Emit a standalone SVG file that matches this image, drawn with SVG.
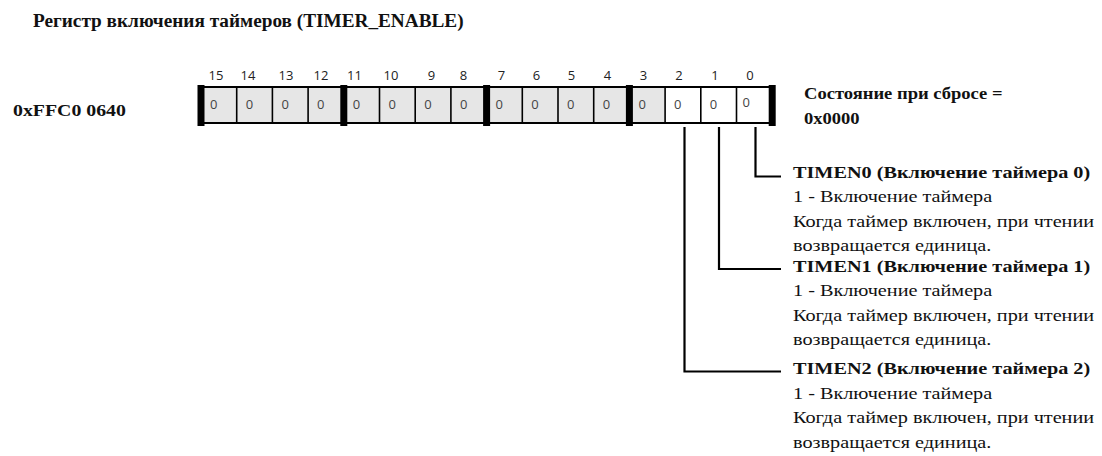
<svg xmlns="http://www.w3.org/2000/svg" width="1102" height="456" viewBox="0 0 1102 456">
  <style>
    .serif { font-family: "Liberation Serif", "Times New Roman", serif; fill: #111; }
    .bold { font-weight: bold; }
    .lbl { font-size: 17px; }
    .bitno { font-family: "Open Sans", "DejaVu Sans", sans-serif; font-size: 13px; fill: #222; text-anchor: middle; }
    .val { font-family: "Open Sans", "DejaVu Sans", sans-serif; font-size: 13px; fill: #444; }
    .cell-ro { fill: #e6e6e6; stroke: none; }
    .cell-rw { fill: #ffffff; stroke: none; }
    .div { stroke: #000; stroke-width: 1.6; }
    .nib { fill: #000; }
    .frame { stroke: #000; stroke-width: 2; fill: none; }
    .lead { stroke: #000; stroke-width: 2.2; fill: none; }
  </style>

  <!-- register name -->
  <g id="title">
    <text class="serif bold" font-size="18" transform="translate(33 27) scale(1.07 1)">Регистр включения таймеров (TIMER_ENABLE)</text>
  </g>

  <!-- memory-mapped address -->
  <g id="address">
    <text class="serif bold" font-size="16" transform="translate(13 115.5) scale(1.24 1)">0xFFC0 0640</text>
  </g>

  <!-- 16-bit register body -->
  <g id="register">
    <rect class="cell-ro" x="201" y="87" width="464.1" height="36"/>
    <rect class="cell-rw" x="665.1" y="87" width="107.1" height="36"/>
    <line class="frame" x1="201" y1="87" x2="772.2" y2="87"/>
    <line class="frame" x1="201" y1="123" x2="772.2" y2="123"/>
    <!-- cell dividers -->
    <g class="div">
      <line x1="236.7" y1="87" x2="236.7" y2="123"/>
      <line x1="272.4" y1="87" x2="272.4" y2="123"/>
      <line x1="308.1" y1="87" x2="308.1" y2="123"/>
      <line x1="379.5" y1="87" x2="379.5" y2="123"/>
      <line x1="415.2" y1="87" x2="415.2" y2="123"/>
      <line x1="450.9" y1="87" x2="450.9" y2="123"/>
      <line x1="522.3" y1="87" x2="522.3" y2="123"/>
      <line x1="558" y1="87" x2="558" y2="123"/>
      <line x1="593.7" y1="87" x2="593.7" y2="123"/>
      <line x1="665.1" y1="87" x2="665.1" y2="123"/>
      <line x1="700.8" y1="87" x2="700.8" y2="123"/>
      <line x1="736.5" y1="87" x2="736.5" y2="123"/>
    </g>
    <!-- nibble separators -->
    <rect class="nib" x="197.5" y="85" width="7" height="41"/>
    <rect class="nib" x="340.3" y="85" width="7" height="41"/>
    <rect class="nib" x="483.1" y="85" width="7" height="41"/>
    <rect class="nib" x="625.9" y="85" width="7" height="41"/>
    <rect class="nib" x="768.7" y="85" width="7" height="41"/>

    <!-- bit numbers -->
    <text class="bitno" x="216" y="80">15</text>
    <text class="bitno" x="248" y="80">14</text>
    <text class="bitno" x="286" y="80">13</text>
    <text class="bitno" x="321" y="80">12</text>
    <text class="bitno" x="354.5" y="80">11</text>
    <text class="bitno" x="391" y="80">10</text>
    <text class="bitno" x="431.5" y="80">9</text>
    <text class="bitno" x="463.5" y="80">8</text>
    <text class="bitno" x="501.5" y="80">7</text>
    <text class="bitno" x="536.5" y="80">6</text>
    <text class="bitno" x="571.5" y="80">5</text>
    <text class="bitno" x="607.5" y="80">4</text>
    <text class="bitno" x="643.5" y="80">3</text>
    <text class="bitno" x="679" y="80">2</text>
    <text class="bitno" x="715" y="80">1</text>
    <text class="bitno" x="750" y="80">0</text>

    <!-- reset values -->
    <text class="val" x="210" y="109">0</text>
    <text class="val" x="245.7" y="109">0</text>
    <text class="val" x="281.4" y="109">0</text>
    <text class="val" x="317.1" y="109">0</text>
    <text class="val" x="352.8" y="109">0</text>
    <text class="val" x="388.5" y="109">0</text>
    <text class="val" x="424.2" y="109">0</text>
    <text class="val" x="459.9" y="109">0</text>
    <text class="val" x="495.6" y="109">0</text>
    <text class="val" x="531.3" y="109">0</text>
    <text class="val" x="567" y="109">0</text>
    <text class="val" x="602.7" y="109">0</text>
    <text class="val" x="638.4" y="109">0</text>
    <text class="val" x="674.1" y="109">0</text>
    <text class="val" x="709.8" y="109">0</text>
    <text class="val" x="742.5" y="107">0</text>
  </g>

  <!-- reset state -->
  <g id="reset-state">
    <text class="serif bold" font-size="16" transform="translate(804 99) scale(1.16 1)">Состояние при сбросе =</text>
    <text class="serif bold" font-size="16" transform="translate(804 123.5) scale(1.16 1)">0x0000</text>
  </g>

  <!-- leaders from bit cells to field descriptions -->
  <g id="connectors">
    <path class="lead" d="M755.5 127 V176.5 H781"/>
    <path class="lead" d="M719 127 V269 H781"/>
    <path class="lead" d="M684.5 127 V371.5 H781"/>
  </g>

  <!-- field descriptions -->
  <g id="field-timen0" class="serif lbl">
    <text class="bold" transform="translate(793 177.5) scale(1.19 1)">TIMEN0 (Включение таймера 0)</text>
    <text transform="translate(793 202) scale(1.19 1)">1 - Включение таймера</text>
    <text transform="translate(793 226.5) scale(1.19 1)">Когда таймер включен, при чтении</text>
    <text transform="translate(793 251) scale(1.19 1)">возвращается единица.</text>
  </g>
  <g id="field-timen1" class="serif lbl">
    <text class="bold" transform="translate(793 271.5) scale(1.19 1)">TIMEN1 (Включение таймера 1)</text>
    <text transform="translate(793 296) scale(1.19 1)">1 - Включение таймера</text>
    <text transform="translate(793 320.5) scale(1.19 1)">Когда таймер включен, при чтении</text>
    <text transform="translate(793 345) scale(1.19 1)">возвращается единица.</text>
  </g>
  <g id="field-timen2" class="serif lbl">
    <text class="bold" transform="translate(793 374) scale(1.19 1)">TIMEN2 (Включение таймера 2)</text>
    <text transform="translate(793 398.5) scale(1.19 1)">1 - Включение таймера</text>
    <text transform="translate(793 423) scale(1.19 1)">Когда таймер включен, при чтении</text>
    <text transform="translate(793 447.5) scale(1.19 1)">возвращается единица.</text>
  </g>
</svg>
